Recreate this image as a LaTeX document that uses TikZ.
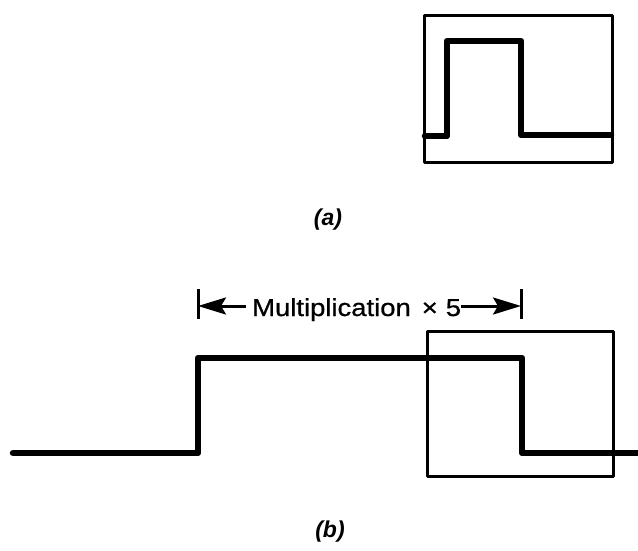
\documentclass[tikz,border=0pt]{standalone}
\usepackage{fontspec}
\setmainfont{Liberation Sans}
\newfontfamily\widesans[FakeStretch=1.12,FakeBold=0.8]{Liberation Sans}
\usetikzlibrary{arrows.meta}
\tikzset{
  frame/.style={line width=3pt, line join=round},
  signal/.style={line width=6.5pt, line join=round, line cap=round},
  dimline/.style={line width=3pt},
  dimarrow/.style={line width=3pt, -{Stealth[length=28pt,width=17pt,inset=5pt]}},
  caption/.style={font=\fontsize{23}{26}\selectfont\bfseries\itshape, inner sep=0pt},
  dimtext/.style={font=\widesans\fontsize{24.5}{28}\selectfont, inner sep=0pt}
}
\begin{document}
\begin{tikzpicture}[x=1pt,y=-1pt]
\useasboundingbox (0,0) rectangle (638,551);
% (a)
\draw[frame] (424,16) rectangle (612,162);
\draw[signal] (425,136) -- (447,136) -- (447,41) -- (521,41) -- (521,135) -- (611,135);
\node[caption] (capa) at (328,220) {(a)};
% (b)
\draw[frame] (427,331) rectangle (613,476);
\draw[signal] (13,453) -- (198,453) -- (198,358) -- (522,358) -- (522,453) -- (638,453);
\node[dimtext, anchor=base west] (mult) at (252,316) {Multiplication\hspace{11pt}×\hspace{8pt}5};
\coordinate (ltop) at (198,289);
\coordinate (lbot) at (198,319);
\coordinate (rtop) at (521,289);
\coordinate (rbot) at (521,319);
\coordinate (lmid) at (198,306);
\coordinate (rmid) at (521,306);
\draw[dimline] (ltop) -- (lbot);
\draw[dimline] (rtop) -- (rbot);
\draw[dimarrow] ([xshift=-6pt]mult.west |- lmid) -- (lmid);
\draw[dimarrow] ([xshift=0pt]mult.east |- rmid) -- (rmid);
\node[caption] (capb) at (330,532) {(b)};
\end{tikzpicture}
\end{document}
